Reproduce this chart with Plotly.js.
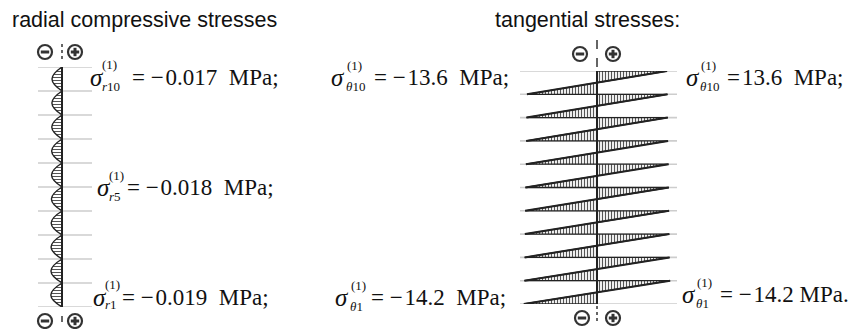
<!DOCTYPE html>
<html><head><meta charset="utf-8">
<script src="https://cdn.plot.ly/plotly-3.0.1.min.js"></script>
<style>html,body{margin:0;padding:0;background:#fff}</style>
</head><body><div id="chart" style="width:855px;height:329px"></div>
<script>
// ---- data (layer 1 = bottom, layer 10 = top) ----
const layers = [1, 2, 3, 4, 5, 6, 7, 8, 9, 10];
const boundaries = [0, 1, 2, 3, 4, 5, 6, 7, 8, 9, 10];
// radial compressive stress, peak value within each layer (MPa)
const radialStress = [-0.019, -0.0188, -0.0186, -0.0184, -0.018, -0.0178, -0.0176, -0.0174, -0.0172, -0.017];
// tangential stress at top (+) and bottom (-) of each layer (MPa)
const tangentialTop = [14.2, 14.1, 14.05, 14.0, 13.95, 13.9, 13.8, 13.75, 13.7, 13.6];
const tangentialBottom = [-14.2, -14.1, -14.05, -14.0, -13.95, -13.9, -13.8, -13.75, -13.7, -13.6];

const titles = ["radial compressive stresses", "tangential stresses:"];
const labels = [
  {sub: "<i>r</i>10", rest: "=\u00A0\u2212\u200A0.017\u00A0\u00A0MPa;"},
  {sub: "<i>r</i>5",  rest: "=\u00A0\u2212\u200A0.018\u00A0\u00A0MPa;"},
  {sub: "<i>r</i>1",  rest: "=\u00A0\u2212\u200A0.019\u00A0\u00A0MPa;"},
  {sub: "<i>θ</i>10", rest: "=\u00A0\u2212\u200A13.6\u00A0\u00A0MPa;"},
  {sub: "<i>θ</i>1",  rest: "=\u00A0\u2212\u200A14.2\u00A0\u00A0MPa;"},
  {sub: "<i>θ</i>10", rest: "=\u200A13.6\u00A0\u00A0MPa;"},
  {sub: "<i>θ</i>1",  rest: "=\u00A0\u2212\u200A14.2\u00A0MPa."}
];

// ---- geometry helpers ----
const W = 855, H = 329;
const px = x => x / W, py = y => 1 - y / H;
const dark = '#222', grey = '#cdcdcd';

const traces = [];
// radial bulges
layers.forEach((L, i) => {
  const v = radialStress[i];
  traces.push({
    x: [0, v, 0], y: [L - 1, L - 0.5, L], xaxis: 'x', yaxis: 'y',
    mode: 'lines', line: {shape: 'spline', smoothing: 1.3, color: dark, width: 1.4},
    fill: 'toself', fillcolor: '#fff',
    fillpattern: {shape: '-', size: 3, solidity: 0.35, fgcolor: '#555', bgcolor: '#fff'},
    hoverinfo: 'skip', showlegend: false
  });
});
// tangential triangles
layers.forEach((L, i) => {
  const t = tangentialTop[i], b = tangentialBottom[i];
  const mid = L - 1 + t / (t - b);
  traces.push({
    x: [0, t, 0, 0], y: [L, L, mid, L], xaxis: 'x2', yaxis: 'y2',
    mode: 'lines', line: {color: dark, width: 1.3},
    fill: 'toself', fillcolor: '#fff',
    fillpattern: {shape: '|', size: 3, solidity: 0.4, fgcolor: '#555', bgcolor: '#fff'},
    hoverinfo: 'skip', showlegend: false
  });
  traces.push({
    x: [0, b, 0, 0], y: [mid, L - 1, L - 1, mid], xaxis: 'x2', yaxis: 'y2',
    mode: 'lines', line: {color: dark, width: 1.3},
    fill: 'toself', fillcolor: '#fff',
    fillpattern: {shape: '|', size: 3, solidity: 0.4, fgcolor: '#555', bgcolor: '#fff'},
    hoverinfo: 'skip', showlegend: false
  });
  traces.push({
    x: [t, b], y: [L, L - 1], xaxis: 'x2', yaxis: 'y2',
    mode: 'lines', line: {color: dark, width: 2},
    hoverinfo: 'skip', showlegend: false
  });
});

const shapes = [];
// grey layer boundary lines
boundaries.forEach(B => {
  shapes.push({type: 'line', xref: 'x domain', yref: 'y', x0: 0, x1: 1, y0: B, y1: B,
    line: {color: grey, width: 1.6}, layer: 'below'});
  shapes.push({type: 'line', xref: 'x2 domain', yref: 'y2', x0: 0, x1: 1, y0: B, y1: B,
    line: {color: grey, width: 1.6}, layer: 'below'});
});
// axis lines
shapes.push({type: 'line', xref: 'x', yref: 'y', x0: 0, x1: 0, y0: 0, y1: 10, line: {color: dark, width: 2}});
shapes.push({type: 'line', xref: 'x2', yref: 'y2', x0: 0, x1: 0, y0: 0, y1: 10, line: {color: dark, width: 2}});
// dashed extensions
function pline(x0, y0, x1, y1, w, dash) {
  shapes.push({type: 'line', xref: 'paper', yref: 'paper', x0: px(x0), y0: py(y0), x1: px(x1), y1: py(y1),
    line: {color: '#333', width: w, dash: dash}});
}
pline(62, 44, 62, 62, 1.5, 'dot');
pline(62, 316, 62, 322, 1.5, 'solid');
pline(597, 40, 597, 71, 1.5, 'dash');
pline(597, 306, 597, 324, 1.5, 'dot');
// sign symbols
function sign(cx, cy, plus) {
  const r = 7;
  shapes.push({type: 'circle', xref: 'paper', yref: 'paper', x0: px(cx - r), x1: px(cx + r), y0: py(cy + r), y1: py(cy - r),
    line: {color: '#333', width: 2.2}, fillcolor: '#fff'});
  pline(cx - 4.2, cy, cx + 4.2, cy, 3, 'solid');
  if (plus) pline(cx, cy - 4.2, cx, cy + 4.2, 3, 'solid');
}
sign(45, 52, false); sign(75, 52, true);
sign(45, 321, false); sign(75, 321, true);
sign(580, 54, false); sign(613, 54, true);
sign(582, 318, false); sign(613, 318, true);

// ---- annotations ----
const ann = [];
function txt(x, y, text, size, family, italic) {
  ann.push({xref: 'paper', yref: 'paper', x: px(x), y: py(y), xanchor: 'left', yanchor: 'middle',
    text: italic ? '<i>' + text + '</i>' : text, showarrow: false, borderpad: 0,
    font: {family: family, size: size, color: '#111'}});
}
const sans = 'Liberation Sans, Arial, sans-serif', serif = 'Liberation Serif, Times New Roman, serif';
txt(11, 20, titles[0], 21.5, sans, false);
txt(494, 20, titles[1], 21.5, sans, false);

const pos = [
  {sx: 89, sy: 77, ux: 101, uy: 64, bx: 101, by: 87, rx: 131},
  {sx: 96, sy: 187, ux: 108, uy: 175, bx: 108, by: 196, rx: 126},
  {sx: 92, sy: 297, ux: 104, uy: 284, bx: 104, by: 304, rx: 121},
  {sx: 330, sy: 77, ux: 346, uy: 65, bx: 345, by: 86, rx: 373},
  {sx: 334, sy: 297, ux: 350, uy: 285, bx: 349, by: 306, rx: 370},
  {sx: 685, sy: 77, ux: 700, uy: 65, bx: 699, by: 86, rx: 726},
  {sx: 681, sy: 294, ux: 696, uy: 282, bx: 695, by: 303, rx: 719}
];
labels.forEach((lb, i) => {
  const p = pos[i];
  txt(p.sx, p.sy, 'σ', 25, serif, true);
  txt(p.ux, p.uy, '(1)', 13, serif, false);
  txt(p.bx, p.by, lb.sub, 13, serif, false);
  txt(p.rx, p.sy, lb.rest, 23, serif, false);
});

const layout = {
  width: W, height: H, margin: {l: 0, r: 0, t: 0, b: 0},
  paper_bgcolor: '#fff', plot_bgcolor: 'rgba(0,0,0,0)', showlegend: false,
  xaxis: {domain: [px(38), px(92)], range: [(38 - 62) / 588, (92 - 62) / 588], visible: false, fixedrange: true, anchor: 'y'},
  yaxis: {domain: [py(307), py(67)], range: [0, 10], visible: false, fixedrange: true, anchor: 'x'},
  xaxis2: {domain: [px(520), px(677)], range: [(520 - 597) / 5.15, (677 - 597) / 5.15], visible: false, fixedrange: true, anchor: 'y2'},
  yaxis2: {domain: [py(304), py(71)], range: [0, 10], visible: false, fixedrange: true, anchor: 'x2'},
  shapes: shapes, annotations: ann
};
Plotly.newPlot('chart', traces, layout, {displayModeBar: false, staticPlot: true});
</script></body></html>
